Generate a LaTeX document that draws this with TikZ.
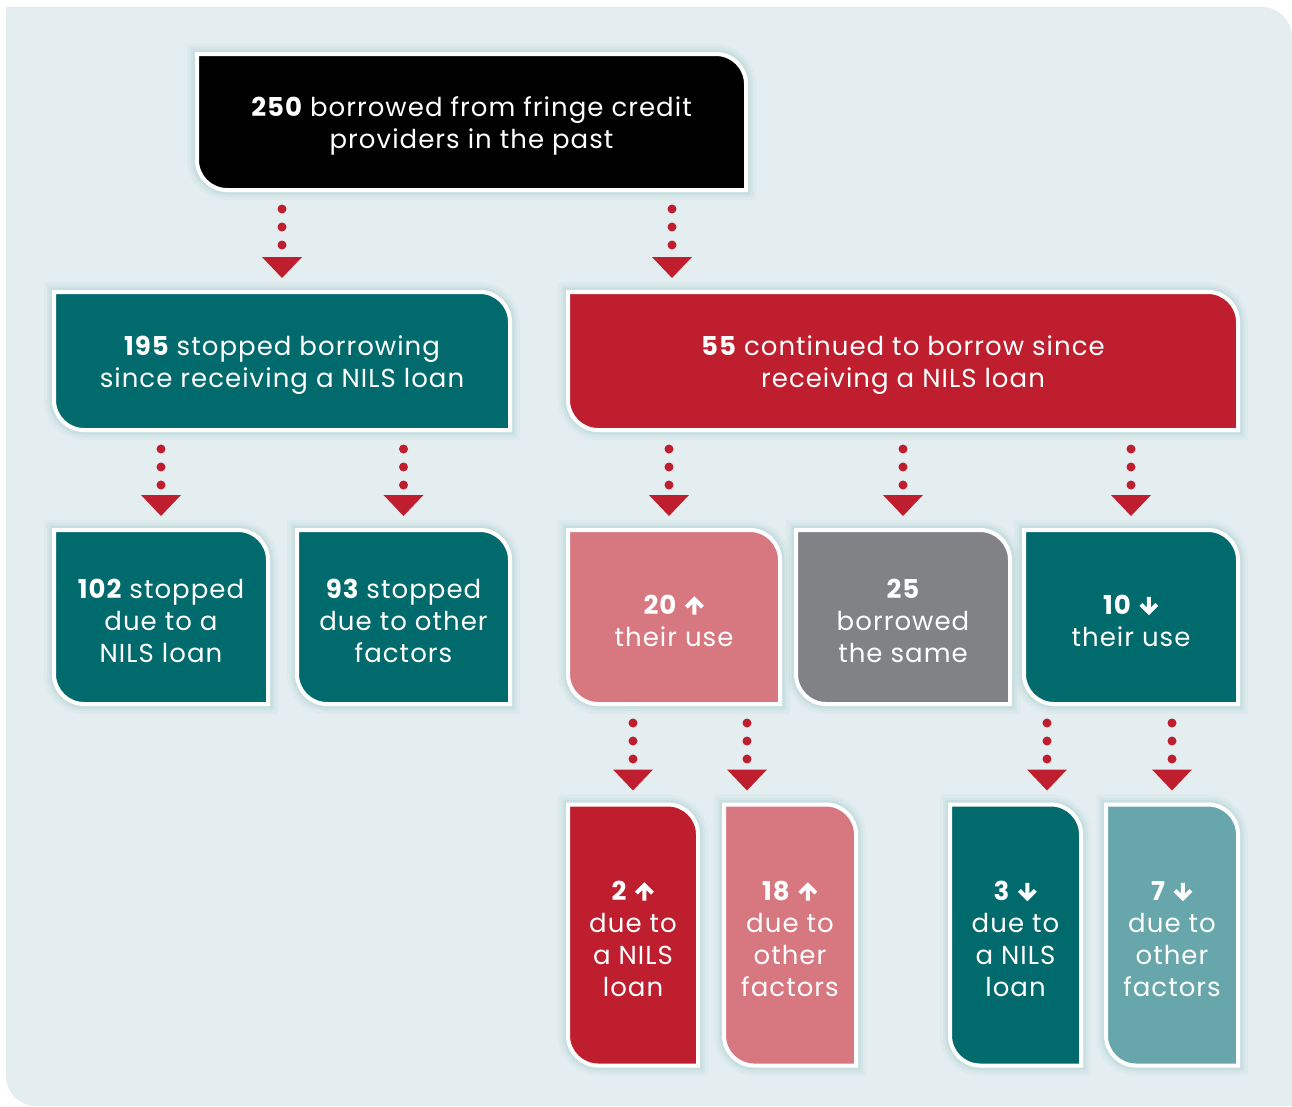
\documentclass[tikz,border=0pt]{standalone}
\usepackage{fontspec}
\setmainfont[LetterSpace=4]{Poppins}
\usetikzlibrary{arrows.meta,backgrounds}

\definecolor{bgcol}{RGB}{228,238,240}
\definecolor{nilsteal}{RGB}{0,106,109}
\definecolor{nilsred}{RGB}{190,30,45}
\definecolor{nilspink}{RGB}{215,120,128}
\definecolor{nilsgrey}{RGB}{128,130,133}
\definecolor{nilslight}{RGB}{103,166,170}
\definecolor{glowcol}{RGB}{150,195,200}

\newcommand\up{\tikz[baseline=0pt]\draw[white,line width=4pt]
  (0pt,0pt) -- (0pt,15.5pt) (-8pt,7.5pt) -- (0pt,15.5pt) -- (8pt,7.5pt);}
\newcommand\down{\tikz[baseline=0pt]\draw[white,line width=4pt]
  (0pt,18pt) -- (0pt,2.5pt) (-8pt,10.5pt) -- (0pt,2.5pt) -- (8pt,10.5pt);}
\newcommand\panelshape[1]{([yshift=4pt]#1.north west) -- ([xshift=-30pt,yshift=4pt]#1.north east)
  arc[start angle=90,end angle=0,radius=30pt] -- ([yshift=4pt]#1.south east)
  -- ([xshift=30pt,yshift=4pt]#1.south west) arc[start angle=270,end angle=180,radius=30pt] -- cycle}

\begin{document}
\begin{tikzpicture}[x=1pt,y=1pt,
  box/.style={text=white,align=center,outer sep=0pt,inner sep=0pt,
    font=\fontsize{26}{32}\selectfont},
  flow/.style={nilsred,line width=9pt,line cap=round,dash pattern=on 0pt off 18pt,
    -{Triangle[width=40pt,length=21pt,line width=0pt]}}]
  \useasboundingbox (0,0) rectangle (1292,-1106);

  \node[box,minimum width=549pt,minimum height=136pt] (top) at (471.5,-126)
    {{\bfseries 250} borrowed from fringe credit\\providers in the past};

  \node[box,minimum width=456pt,minimum height=138pt] (b195) at (282,-365)
    {{\bfseries 195} stopped borrowing\\since receiving a NILS loan};
  \node[box,minimum width=670pt,minimum height=138pt] (b55) at (903,-365)
    {{\bfseries 55} continued to borrow since\\receiving a NILS loan};

  \node[box,minimum width=214pt,minimum height=174pt] (b102) at (161,-621)
    {{\bfseries 102} stopped\\due to a\\NILS loan};
  \node[box,minimum width=213pt,minimum height=174pt] (b93) at (403.5,-621)
    {{\bfseries 93} stopped\\due to other\\factors};
  \node[box,minimum width=212pt,minimum height=174pt] (b20) at (674,-621)
    {{\bfseries 20} \up\\their use};
  \node[box,minimum width=214pt,minimum height=174pt] (b25) at (903,-621)
    {{\bfseries 25}\\borrowed\\the same};
  \node[box,minimum width=214pt,minimum height=174pt] (b10) at (1131,-621)
    {{\bfseries 10} \down\\their use};

  \node[box,minimum width=130pt,minimum height=261pt] (b2) at (633,-939)
    {{\bfseries 2} \up\\due to\\a NILS\\loan};
  \node[box,minimum width=132pt,minimum height=261pt] (b18) at (790,-939)
    {{\bfseries 18} \up\\due to\\other\\factors};
  \node[box,minimum width=131pt,minimum height=261pt] (b3) at (1015.5,-939)
    {{\bfseries 3} \down\\due to\\a NILS\\loan};
  \node[box,minimum width=132pt,minimum height=261pt] (b7) at (1172,-939)
    {{\bfseries 7} \down\\due to\\other\\factors};

  \coordinate (a55) at (672,0);
  \coordinate (a20) at (669,0);
  \coordinate (a18) at (747,0);
  \coordinate (a3) at (1047,0);

  \draw[flow] ([yshift=-15pt]top.south -| b195) -- ([yshift=18pt]b195.north);
  \draw[flow] ([yshift=-15pt]top.south -| a55) -- ([yshift=18pt]b55.north -| a55);
  \draw[flow] ([yshift=-15pt]b195.south -| b102) -- ([yshift=18pt]b102.north);
  \draw[flow] ([yshift=-15pt]b195.south -| b93) -- ([yshift=18pt]b93.north);
  \draw[flow] ([yshift=-15pt]b55.south -| a20) -- ([yshift=18pt]b20.north -| a20);
  \draw[flow] ([yshift=-15pt]b55.south -| b25) -- ([yshift=18pt]b25.north);
  \draw[flow] ([yshift=-15pt]b55.south -| b10) -- ([yshift=18pt]b10.north);
  \draw[flow] ([yshift=-15pt]b20.south -| b2) -- ([yshift=18pt]b2.north);
  \draw[flow] ([yshift=-15pt]b20.south -| a18) -- ([yshift=18pt]b18.north -| a18);
  \draw[flow] ([yshift=-15pt]b10.south -| a3) -- ([yshift=18pt]b3.north -| a3);
  \draw[flow] ([yshift=-15pt]b10.south -| b7) -- ([yshift=18pt]b7.north);

  \begin{pgfonlayer}{background}
    \fill[bgcol] (6,-7) -- (1262,-7) arc[start angle=90,end angle=0,radius=30pt]
      -- (1292,-1106) -- (36,-1106) arc[start angle=270,end angle=180,radius=30pt] -- cycle;
    \foreach \n in {top,b195,b55,b102,b93,b20,b25,b10,b2,b18,b3,b7}{
      \draw[glowcol,line width=20pt,opacity=0.08] \panelshape{\n};
      \draw[glowcol,line width=14pt,opacity=0.12] \panelshape{\n};
      \draw[glowcol,line width=9pt,opacity=0.18] \panelshape{\n};
    }
    \foreach \n/\c in {top/black,b195/nilsteal,b55/nilsred,b102/nilsteal,b93/nilsteal,
      b20/nilspink,b25/nilsgrey,b10/nilsteal,b2/nilsred,b18/nilspink,b3/nilsteal,b7/nilslight}
      \draw[white,line width=4pt,fill=\c] \panelshape{\n};
  \end{pgfonlayer}
\end{tikzpicture}
\end{document}
